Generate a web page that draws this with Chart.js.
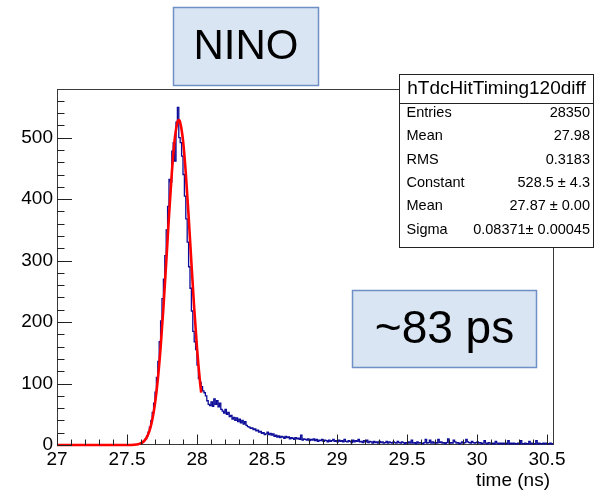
<!DOCTYPE html>
<html><head><meta charset="utf-8">
<script src="https://cdn.jsdelivr.net/npm/chart.js@4.4.1/dist/chart.umd.min.js"></script>
<style>html,body{margin:0;padding:0;background:#fff;}canvas{display:block;}</style>
</head><body>
<canvas id="c" width="602" height="490"></canvas>
<script>
// ---- histogram: hTdcHitTiming120diff, bins of 0.01 ns starting at 27.00 ns ----
const binStart = 27.00;
const binWidth = 0.01;
const counts = [
  0,0,0,0,0,0,0,0,0,0,
  0,0,0,0,0,0,0,0,0,0,
  0,0,0,0,0,0,0,0,0,0,
  0,0,0,0,0,0,0,0,0,0,
  0,0,0,0,0,0,0,0,0,0,
  0,0,0,0,0,0,0,0,0,1,
  2,3,5,7,10,15,21,29,40,53,
  68,86,110,136,168,202,238,270,308,350,
  388,432,428,478,492,462,525,549,500,492,
  470,440,405,368,330,290,255,218,185,168,
  155,130,108,102,95,88,85,80,72,66,
  64,70,63,75,66,72,62,68,58,55,
  52,58,50,53,46,48,42,45,40,44,
  38,42,36,40,34,38,32,30,29,27,
  28,25,26,23,24,21,22,19,20,17,
  18,21,17,19,16,18,14,16,13,15,
  12,14,13,11,14,12,13,10,12,11,
  9,12,10,11,9,16,8,10,9,8,
  10,7,9,8,10,7,9,6,8,7,
  9,6,8,7,5,8,6,7,9,6,
  7,5,8,6,7,5,9,6,5,7,
  6,4,8,5,7,6,9,5,6,4,
  7,5,8,4,6,5,3,6,4,5,
  3,6,4,5,3,4,6,3,5,4,
  3,5,4,3,6,4,3,5,4,2,
  4,3,5,3,8,3,4,2,5,3,
  4,3,2,4,9,3,4,8,3,5,
  3,4,3,9,4,5,3,4,2,4,
  10,3,4,3,8,5,3,4,2,3,
  5,3,4,9,5,4,3,6,4,3,
  4,5,3,4,2,3,7,3,2,4,
  3,2,3,2,6,3,2,3,2,3,
  2,3,2,7,2,3,2,3,2,2,
  3,2,7,2,2,3,2,2,6,2,
  3,2,2,7,2,3,2,2,3,2,
  3,2,2,3,2
];

// ---- gaussian fit curve ----
const fitX = [27.00,27.40,27.50,27.55,27.58,27.60,27.62,27.64,27.66,27.68,27.70,27.72,27.74,27.76,27.78,27.80,27.82,27.84,27.86,27.87,27.88,27.90,27.92,27.94,27.96,27.98,28.00,28.02,28.03];
const fitY = [0,0,0.03,0.35,1.3,2.9,6.1,12.1,22.7,40.2,67.2,106.2,158.2,222.9,296.5,372.5,442.1,495.6,524.7,528.5,524.7,495.6,442.1,372.5,296.5,222.9,158.2,106.2,85.1];

// ---- axes ----
const xTickValues = [27, 27.5, 28, 28.5, 29, 29.5, 30, 30.5];
const yTickValues = [0, 100, 200, 300, 400, 500];
const xRange = [27, 30.543];
const yRange = [0, 577.5];
const xTitle = "time (ns)";

// ---- stats box ----
const statsTitle = "hTdcHitTiming120diff";
const statsNames = ["Entries", "Mean", "RMS", "Constant", "Mean", "Sigma"];
const statsValues = ["28350", "27.98", "0.3183", "528.5 \u00b1 4.3", "27.87 \u00b1 0.00", "0.08371\u00b1 0.00045"];

// ---- annotation labels ----
const noteTop = "NINO";
const noteRight = "~83 ps";

const histPoints = counts.map((c, i) => ({x: binStart + i * binWidth, y: c}));
histPoints.push({x: binStart + counts.length * binWidth, y: counts[counts.length - 1]});
const fitPoints = fitX.map((x, i) => ({x: x, y: fitY[i]}));

const FONT = "'Liberation Sans', Arial, sans-serif";

const deco = {
  id: 'deco',
  beforeDraw(chart) {
    const ctx = chart.ctx;
    ctx.save();
    ctx.fillStyle = '#fff';
    ctx.fillRect(0, 0, chart.width, chart.height);
    ctx.restore();
  },
  beforeDatasetsDraw(chart) {
    const ctx = chart.ctx, a = chart.chartArea;
    ctx.save();
    ctx.strokeStyle = '#3a3a3a';
    ctx.lineWidth = 1;
    ctx.strokeRect(Math.round(a.left) + 0.5, Math.round(a.top) - 0.5, Math.round(a.right - a.left), Math.round(a.bottom - a.top));
    ctx.restore();
  },
  afterDatasetsDraw(chart) {
    const ctx = chart.ctx, a = chart.chartArea;
    const xs = chart.scales.x, ys = chart.scales.y;
    ctx.save();
    ctx.strokeStyle = '#222';
    ctx.lineWidth = 1;
    ctx.beginPath();
    for (let k = 0; k <= 35; k++) {
      const v = 27 + k * 0.1;
      const px = Math.round(xs.getPixelForValue(v)) + 0.5;
      const len = (k % 5 === 0) ? 10.5 : 5.5;
      ctx.moveTo(px, a.bottom);
      ctx.lineTo(px, a.bottom - len);
    }
    for (let k = 0; k <= 28; k++) {
      const v = k * 20;
      const py = Math.round(ys.getPixelForValue(v)) + 0.5;
      const len = (k % 5 === 0) ? 15 : 7.5;
      ctx.moveTo(a.left, py);
      ctx.lineTo(a.left + len, py);
    }
    ctx.stroke();
    ctx.restore();
  },
  afterDraw(chart) {
    const ctx = chart.ctx, a = chart.chartArea;
    ctx.save();
    // axis title
    ctx.fillStyle = '#000';
    ctx.font = '19px ' + FONT;
    ctx.textAlign = 'right';
    ctx.textBaseline = 'alphabetic';
    ctx.fillText(xTitle, a.right - 3, 486);

    // stats box
    const bx = 399.5, by = 74.5, bw = 194, bh = 173;
    ctx.fillStyle = '#fff';
    ctx.fillRect(bx, by, bw, bh);
    ctx.strokeStyle = '#222';
    ctx.lineWidth = 1;
    ctx.strokeRect(bx, by, bw, bh);
    ctx.beginPath();
    ctx.moveTo(bx, 103.5); ctx.lineTo(bx + bw, 103.5);
    ctx.stroke();
    ctx.fillStyle = '#000';
    ctx.font = '19px ' + FONT;
    ctx.textAlign = 'center';
    ctx.fillText(statsTitle, bx + bw / 2, 94);
    ctx.font = '14.5px ' + FONT;
    for (let i = 0; i < statsNames.length; i++) {
      const yb = 116.7 + 23.4 * i;
      ctx.textAlign = 'left';
      ctx.fillText(statsNames[i], 406.5, yb);
      ctx.textAlign = 'right';
      ctx.fillText(statsValues[i], 590, yb);
    }

    // annotation boxes
    function note(x, y, w, h, text, size) {
      ctx.fillStyle = '#d9e5f2';
      ctx.fillRect(x, y, w, h);
      ctx.strokeStyle = '#6f90c6';
      ctx.lineWidth = 1.5;
      ctx.strokeRect(x, y, w, h);
      ctx.fillStyle = '#000';
      ctx.font = size + 'px ' + FONT;
      ctx.textAlign = 'center';
      ctx.textBaseline = 'middle';
      ctx.fillText(text, x + w / 2, y + h / 2 + 1);
    }
    note(173.5, 7.5, 145, 78, noteTop, 42);
    note(352.5, 290.5, 184, 77, noteRight, 46);
    ctx.restore();
  }
};

new Chart(document.getElementById('c'), {
  type: 'line',
  data: {
    datasets: [
      {
        label: 'hist',
        data: histPoints,
        stepped: 'after',
        borderColor: '#0c0c98',
        borderWidth: 1.3,
        pointRadius: 0,
        fill: false,
        order: 2
      },
      {
        label: 'fit',
        data: fitPoints,
        borderColor: '#ff0000',
        borderWidth: 2.6,
        pointRadius: 0,
        cubicInterpolationMode: 'monotone',
        fill: false,
        clip: false,
        order: 1
      }
    ]
  },
  options: {
    responsive: false,
    animation: false,
    devicePixelRatio: 1,
    layout: { padding: { left: 0, top: 90, right: 49, bottom: 0 } },
    plugins: { legend: { display: false }, tooltip: { enabled: false }, title: { display: false } },
    scales: {
      x: {
        type: 'linear',
        min: xRange[0], max: xRange[1],
        grid: { display: false, drawTicks: false },
        border: { display: false },
        afterBuildTicks: s => { s.ticks = xTickValues.map(v => ({value: v})); },
        afterFit: s => { s.height = 45; },
        ticks: {
          autoSkip: false, maxRotation: 0, minRotation: 0, padding: 3,
          color: '#000', font: { family: FONT, size: 19 },
          callback: v => String(v)
        }
      },
      y: {
        type: 'linear',
        min: yRange[0], max: yRange[1],
        grid: { display: false, drawTicks: false },
        border: { display: false },
        afterBuildTicks: s => { s.ticks = yTickValues.map(v => ({value: v})); },
        afterFit: s => { s.width = 57; },
        ticks: {
          autoSkip: false, padding: 4,
          color: '#000', font: { family: FONT, size: 19 },
          callback: v => String(v)
        }
      }
    }
  },
  plugins: [deco]
});
</script>
</body></html>
